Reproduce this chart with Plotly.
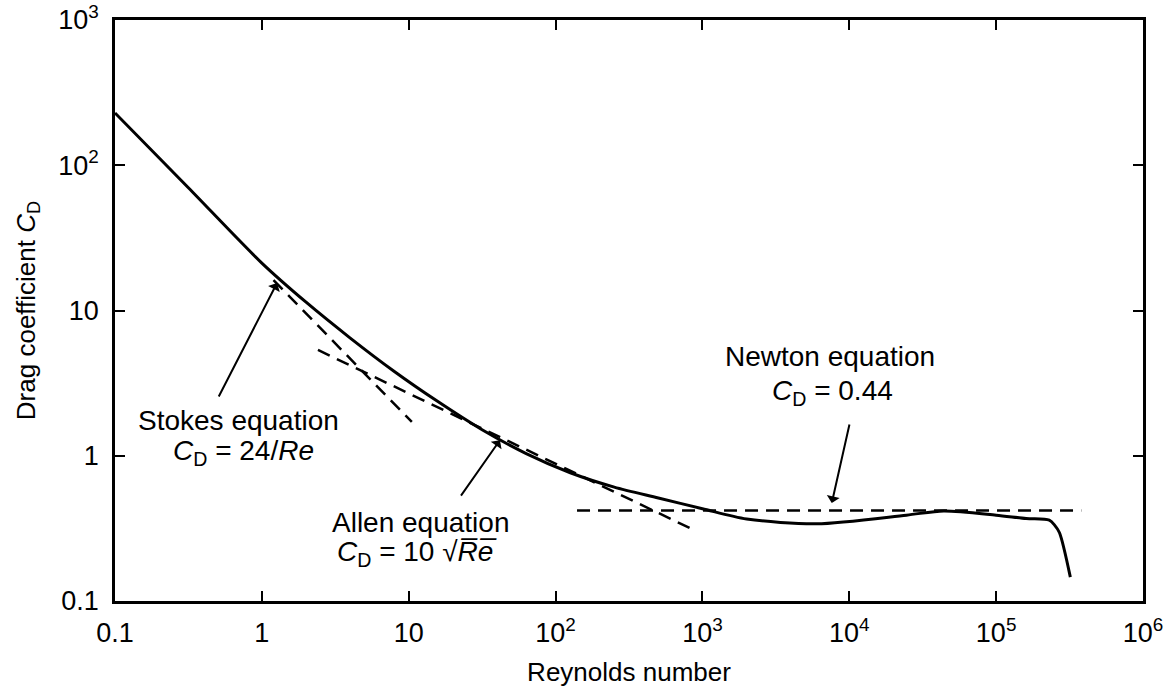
import plotly.graph_objects as go
import math

# Main drag curve
re_curve = [0.1, 0.316, 1.0, 2.0, 4.0, 7.94, 15.8, 31.6, 63.1, 126, 251, 501, 1000,
            2000, 6000, 24500, 44000, 100000, 160000, 230000, 250000, 270000, 320000]
cd_curve = [229, 70.0, 21.2, 11.4, 6.46, 3.82, 2.36, 1.51, 1.035, 0.764, 0.608, 0.512, 0.432,
            0.367, 0.34, 0.39, 0.417, 0.39, 0.37, 0.36, 0.333, 0.295, 0.146]

# Asymptote lines (dashed)
re_stokes = [1.2, 10.5]
cd_stokes = [16.2, 1.71]
re_allen = [2.41, 820]
cd_allen = [5.35, 0.318]
re_newton = [140, 380000]
cd_newton = [0.42, 0.42]

x_tickvals = [0.1, 1, 10, 100, 1e3, 1e4, 1e5, 1e6]
x_ticktext = ["0.1", "1", "10", "10<sup>2</sup>", "10<sup>3</sup>", "10<sup>4</sup>",
              "10<sup>5</sup>", "10<sup>6</sup>"]
y_tickvals = [0.1, 1, 10, 100, 1000]
y_ticktext = ["0.1", "1", "10", "10<sup>2</sup>", "10<sup>3</sup>"]

FONT = "Liberation Sans, Arial, Helvetica, sans-serif"
W, H = 1170, 692
L, R, T, B = 115, 27, 20, 91

fig = go.Figure()
dash = "13px,8px"
for xs, ys in [(re_stokes, cd_stokes), (re_allen, cd_allen), (re_newton, cd_newton)]:
    fig.add_trace(go.Scatter(x=xs, y=ys, mode="lines",
                             line=dict(color="black", width=2.5, dash=dash),
                             hoverinfo="skip", showlegend=False))
fig.add_trace(go.Scatter(x=re_curve, y=cd_curve, mode="lines",
                         line=dict(color="black", width=3, shape="spline", smoothing=0.8),
                         showlegend=False))

ann_font = dict(family=FONT, size=28, color="black")
# Arrows: head at data point, tail offset in pixels
arrows = [
    (1.268, 15.45, -59, 115),   # Stokes
    (41.8, 1.28, -40, 57),      # Allen
    (7600, 0.473, 18, -80),     # Newton
]
for x, y, ax, ay in arrows:
    fig.add_annotation(x=math.log10(x), y=math.log10(y), ax=ax, ay=ay,
                       xref="x", yref="y", showarrow=True, arrowhead=1,
                       arrowsize=1.1, arrowwidth=2, arrowcolor="black", text="")

labels = [
    ("Stokes equation", 238, 420),
    ("<i>C</i><sub>D</sub> = 24/<i>Re</i>", 243, 452),
    ("Allen equation", 420, 522),
    ("<i>C</i><sub>D</sub> = 10 √<i>R̅e̅</i>", 417, 553),
    ("Newton equation", 830, 357),
    ("<i>C</i><sub>D</sub> = 0.44", 832, 392),
]


def to_paper(px, py):
    return (px - L) / (W - L - R), 1 - (py - T) / (H - T - B)


for text, px, py in labels:
    xp, yp = to_paper(px, py)
    fig.add_annotation(x=xp, y=yp, xref="paper", yref="paper", text=text,
                       showarrow=False, font=ann_font, xanchor="center", yanchor="middle")

axis_common = dict(
    type="log", showline=True, linecolor="black", linewidth=2.5, mirror="ticks",
    ticks="inside", ticklen=10, tickwidth=2, tickcolor="black",
    showgrid=False, zeroline=False, automargin=False,
    tickfont=dict(family=FONT, size=27, color="black"),
)

fig.update_xaxes(**axis_common, range=[-1, 6], tickvals=x_tickvals, ticktext=x_ticktext,
                 ticklabelstandoff=6,
                 title=dict(text="Reynolds number", font=dict(family=FONT, size=26, color="black"),
                            standoff=16))
fig.update_yaxes(**axis_common, range=[-1, 3], tickvals=y_tickvals, ticktext=y_ticktext,
                 ticklabelstandoff=8,
                 title=dict(text="Drag coefficient <i>C</i><sub>D</sub>",
                            font=dict(family=FONT, size=26, color="black"), standoff=16))

fig.update_layout(width=W, height=H, margin=dict(l=L, r=R, t=T, b=B),
                  paper_bgcolor="white", plot_bgcolor="white", showlegend=False)

fig.write_html("out.html")
